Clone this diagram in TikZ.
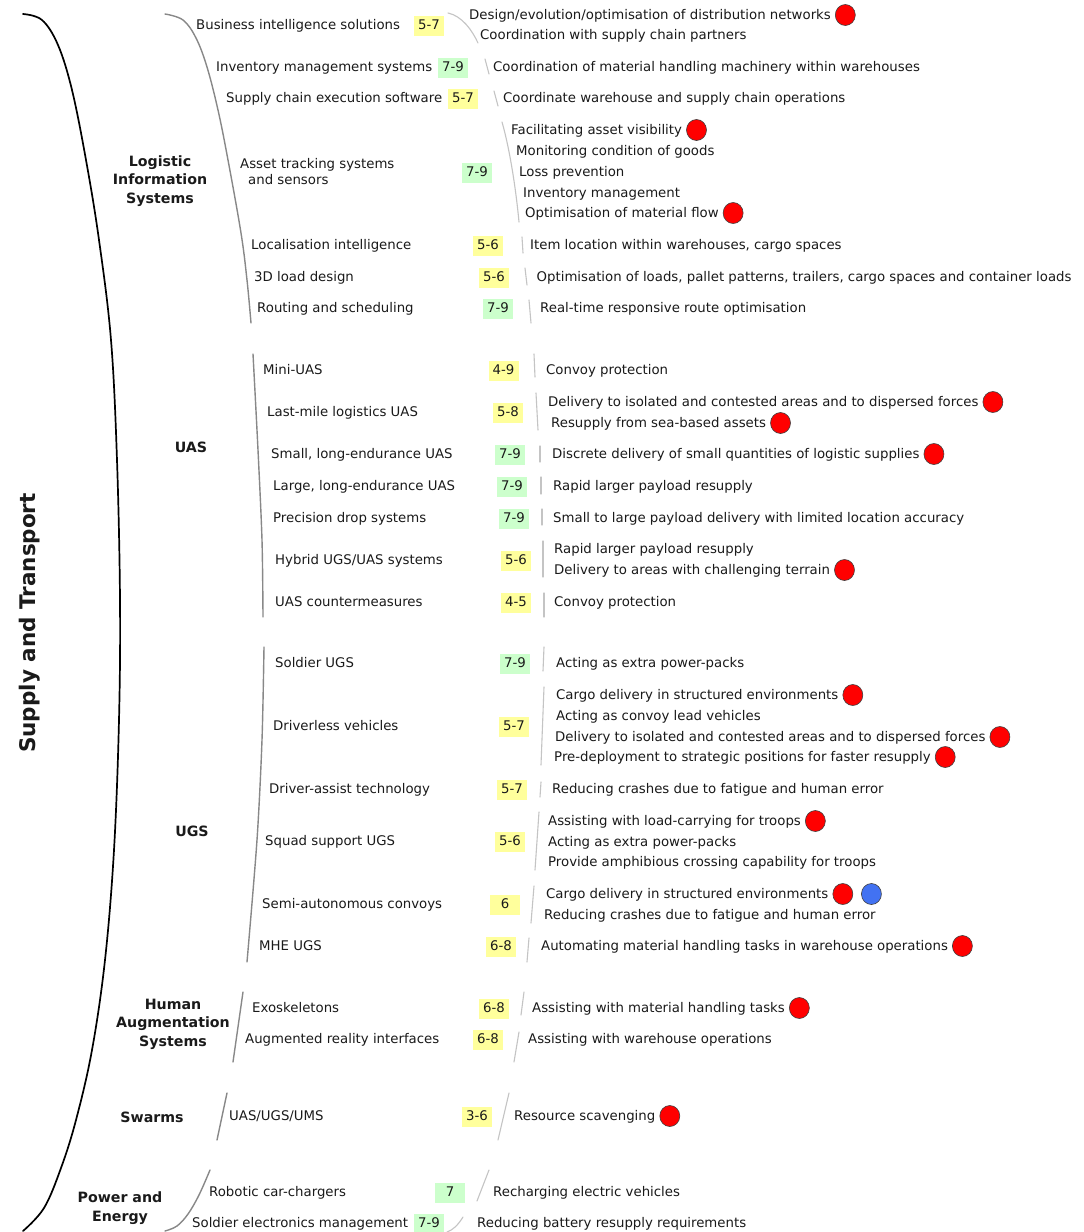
\documentclass[tikz,border=0pt]{standalone}
\usepackage{fontspec}
\setmainfont{DejaVu Sans}
\usetikzlibrary{shapes.geometric,positioning}
\definecolor{tyellow}{HTML}{FFFF9C}
\definecolor{tgreen}{HTML}{CCFFCC}
\definecolor{dotred}{HTML}{FF0000}
\definecolor{dotblue}{HTML}{4272F2}
\definecolor{txt}{HTML}{1A1A1A}
\definecolor{grpgray}{HTML}{888888}
\definecolor{sepgray}{HTML}{C4C4C4}
\begin{document}
\begin{tikzpicture}[x=1pt,y=-1pt,
  lbl/.style={anchor=west,inner sep=0pt,text height=12pt,text depth=3pt,font=\fontsize{13.3}{16}\selectfont,text=txt},
  cat/.style={align=center,inner sep=0pt,font=\fontsize{14.2}{18.5}\selectfont\bfseries,text=txt},
  badgeY/.style={fill=tyellow,minimum width=30pt,minimum height=20pt,inner sep=0pt,text height=10pt,text depth=3pt,font=\fontsize{13.3}{16}\selectfont,text=txt,yshift=-1pt},
  badgeG/.style={badgeY,fill=tgreen},
  rdot/.style={ellipse,draw=black!75,line width=0.6pt,fill=dotred,minimum width=20pt,minimum height=21pt,inner sep=0pt},
  bdot/.style={rdot,fill=dotblue},
  grp/.style={draw=grpgray,line width=1.4pt,line cap=round},
  sepline/.style={draw=sepgray,line width=1.1pt,line cap=round},
  mainbr/.style={draw=black,line width=1.7pt,line cap=round}
]
\useasboundingbox[fill=white] (0,0) rectangle (1084,1232);

% ---------- main bracket and title
\draw[mainbr] plot[smooth,tension=0.6] coordinates {(23,14) (42,20) (58,45) (72,90) (86,160) (99,240) (111,340) (117,460) (120,600) (119,720) (114,850) (105,960) (92,1050) (76,1120) (61,1168) (44,1208) (23,1231)};
\node[rotate=90,inner sep=0pt,font=\fontsize{21.5}{24}\selectfont\bfseries,text=txt] (title) at (30,623) {Supply and Transport};

% ---------- category labels
\node[cat] (catLIS) at (160,181) {Logistic\\Information\\Systems};
\node[cat] (catUAS) at (191,447) {UAS};
\node[cat] (catUGS) at (192,831) {UGS};
\node[cat] (catHAS) at (173,1024) {Human\\Augmentation\\Systems};
\node[cat] (catSW) at (152,1117) {Swarms};
\node[cat] (catPE) at (120,1208) {Power and\\Energy};

% ---------- group brackets
\draw[grp] plot[smooth,tension=0.6] coordinates {(165,14) (183,20) (196,38) (207,67) (218,110) (228,160) (241,233) (247,280) (251,323)};
\draw[grp] plot[smooth] coordinates {(253,354) (258,450) (262,540) (263,617)};
\draw[grp] plot[smooth] coordinates {(264,647) (262,740) (257,840) (247,962)};
\draw[grp] (243,992) -- (233,1062);
\draw[grp] (227,1093) -- (217,1140);
\draw[grp] plot[smooth,tension=0.6] coordinates {(210,1170) (199,1195) (188,1214) (177,1226) (165,1231)};

% ---------- technologies
\node[lbl] (i1) at (196,25) {Business intelligence solutions};
\node[badgeY] (b1) at (429,25) {5-7};
\node[lbl] (i2) at (216,67) {Inventory management systems};
\node[badgeG] (b2) at (453,67) {7-9};
\node[lbl] (i3) at (226,98) {Supply chain execution software};
\node[badgeY] (b3) at (463,98) {5-7};
\node[lbl] (i4) at (240,164) {Asset tracking systems};
\node[lbl] (i4b) at (248,180) {and sensors};
\node[badgeG] (b4) at (477,172) {7-9};
\node[lbl] (i5) at (251,245) {Localisation intelligence};
\node[badgeY] (b5) at (488,245) {5-6};
\node[lbl] (i6) at (254,277) {3D load design};
\node[badgeY] (b6) at (494,277) {5-6};
\node[lbl] (i7) at (257,308) {Routing and scheduling};
\node[badgeG] (b7) at (498,308) {7-9};

\node[lbl] (i8) at (263,370) {Mini-UAS};
\node[badgeY] (b8) at (503.5,370) {4-9};
\node[lbl] (i9) at (267,412) {Last-mile logistics UAS};
\node[badgeY] (b9) at (508,412) {5-8};
\node[lbl] (i10) at (271,454) {Small, long-endurance UAS};
\node[badgeG] (b10) at (510,454) {7-9};
\node[lbl] (i11) at (273,486) {Large, long-endurance UAS};
\node[badgeG] (b11) at (512,486) {7-9};
\node[lbl] (i12) at (273,518) {Precision drop systems};
\node[badgeG] (b12) at (514,518) {7-9};
\node[lbl] (i13) at (275,560) {Hybrid UGS/UAS systems};
\node[badgeY] (b13) at (516,560) {5-6};
\node[lbl] (i14) at (275,602) {UAS countermeasures};
\node[badgeY] (b14) at (516,602) {4-5};

\node[lbl] (i15) at (275,663) {Soldier UGS};
\node[badgeG] (b15) at (515,663) {7-9};
\node[lbl] (i16) at (273,726) {Driverless vehicles};
\node[badgeY] (b16) at (514,726) {5-7};
\node[lbl] (i17) at (269,789) {Driver-assist technology};
\node[badgeY] (b17) at (512,789) {5-7};
\node[lbl] (i18) at (265,841) {Squad support UGS};
\node[badgeY] (b18) at (510,841) {5-6};
\node[lbl] (i19) at (262,904) {Semi-autonomous convoys};
\node[badgeY] (b19) at (505,904) {6};
\node[lbl] (i20) at (259,946) {MHE UGS};
\node[badgeY] (b20) at (501,946) {6-8};

\node[lbl] (i21) at (252,1008) {Exoskeletons};
\node[badgeY] (b21) at (494,1008) {6-8};
\node[lbl] (i22) at (245,1039) {Augmented reality interfaces};
\node[badgeY] (b22) at (488,1039) {6-8};
\node[lbl] (i23) at (229,1116) {UAS/UGS/UMS};
\node[badgeY] (b23) at (477,1116) {3-6};
\node[lbl] (i24) at (209,1192) {Robotic car-chargers};
\node[badgeG] (b24) at (450,1192) {7};
\node[lbl] (i25) at (192,1223) {Soldier electronics management};
\node[badgeG] (b25) at (429,1223) {7-9};

% ---------- separators
\draw[sepline] (448,13) .. controls (462,16) and (472,30) .. (478,43);
\draw[sepline] (485,59) -- (489,74);
\draw[sepline] (494,91) -- (498,106);
\draw[sepline] (502,122) .. controls (510,150) and (516,190) .. (519,222);
\draw[sepline] (522,237) -- (523,253);
\draw[sepline] (525,268) -- (527,285);
\draw[sepline] (529,300) -- (531,323);
\draw[sepline] (534,354) -- (535,377);
\draw[sepline] (536,393) -- (538,430);
\draw[sepline] (540,446) -- (540,462);
\draw[sepline] (541,477) -- (541,494);
\draw[sepline] (542,509) -- (542,525);
\draw[sepline] (543,541) -- (543,577);
\draw[sepline] (544,593) -- (544,617);
\draw[sepline] (544,647) -- (543,671);
\draw[sepline] (544,687) -- (541,765);
\draw[sepline] (541,782) -- (540,797);
\draw[sepline] (539,812) -- (535,870);
\draw[sepline] (534,886) -- (531,923);
\draw[sepline] (529,938) -- (527,962);
\draw[sepline] (524,992) -- (521,1015);
\draw[sepline] (519,1032) -- (514,1062);
\draw[sepline] (509,1093) -- (498,1140);
\draw[sepline] (489,1170) -- (477,1201);
\draw[sepline] (463,1217) .. controls (458,1225) and (453,1230) .. (447,1232);

% ---------- applications
\node[lbl] (a1) at (469,15) {Design/evolution/optimisation of distribution networks};
\node[rdot,right=4pt of a1] (d1) {};
\node[lbl] (a1b) at (480,35) {Coordination with supply chain partners};
\node[lbl] (a2) at (493,67) {Coordination of material handling machinery within warehouses};
\node[lbl] (a3) at (503,98) {Coordinate warehouse and supply chain operations};
\node[lbl] (a4) at (511,130) {Facilitating asset visibility};
\node[rdot,right=4pt of a4] (d4) {};
\node[lbl] (a4b) at (516,151) {Monitoring condition of goods};
\node[lbl] (a4c) at (519,172) {Loss prevention};
\node[lbl] (a4d) at (523,193) {Inventory management};
\node[lbl] (a4e) at (525,213) {Optimisation of material flow};
\node[rdot,right=4pt of a4e] (d4e) {};
\node[lbl] (a5) at (530,245) {Item location within warehouses, cargo spaces};
\node[lbl] (a6) at (536.5,277) {Optimisation of loads, pallet patterns, trailers, cargo spaces and container loads};
\node[lbl] (a7) at (540,308) {Real-time responsive route optimisation};

\node[lbl] (a8) at (546,370) {Convoy protection};
\node[lbl] (a9) at (548,402) {Delivery to isolated and contested areas and to dispersed forces};
\node[rdot,right=4pt of a9] (d9) {};
\node[lbl] (a9b) at (551,423) {Resupply from sea-based assets};
\node[rdot,right=4pt of a9b] (d9b) {};
\node[lbl] (a10) at (552,454) {Discrete delivery of small quantities of logistic supplies};
\node[rdot,right=4pt of a10] (d10) {};
\node[lbl] (a11) at (553,486) {Rapid larger payload resupply};
\node[lbl] (a12) at (553,518) {Small to large payload delivery with limited location accuracy};
\node[lbl] (a13) at (554,549) {Rapid larger payload resupply};
\node[lbl] (a13b) at (554,570) {Delivery to areas with challenging terrain};
\node[rdot,right=4pt of a13b] (d13b) {};
\node[lbl] (a14) at (554,602) {Convoy protection};

\node[lbl] (a15) at (556,663) {Acting as extra power-packs};
\node[lbl] (a16) at (556,695) {Cargo delivery in structured environments};
\node[rdot,right=4pt of a16] (d16) {};
\node[lbl] (a16b) at (556,716) {Acting as convoy lead vehicles};
\node[lbl] (a16c) at (555,737) {Delivery to isolated and contested areas and to dispersed forces};
\node[rdot,right=4pt of a16c] (d16c) {};
\node[lbl] (a16d) at (554,757) {Pre-deployment to strategic positions for faster resupply};
\node[rdot,right=4pt of a16d] (d16d) {};
\node[lbl] (a17) at (552,789) {Reducing crashes due to fatigue and human error};
\node[lbl] (a18) at (548,821) {Assisting with load-carrying for troops};
\node[rdot,right=4pt of a18] (d18) {};
\node[lbl] (a18b) at (548,842) {Acting as extra power-packs};
\node[lbl] (a18c) at (548,862) {Provide amphibious crossing capability for troops};
\node[lbl] (a19) at (546,894) {Cargo delivery in structured environments};
\node[rdot,right=4pt of a19] (d19) {};
\node[bdot,right=8pt of d19] (d19b) {};
\node[lbl] (a19b) at (544,915) {Reducing crashes due to fatigue and human error};
\node[lbl] (a20) at (541,946) {Automating material handling tasks in warehouse operations};
\node[rdot,right=4pt of a20] (d20) {};

\node[lbl] (a21) at (532,1008) {Assisting with material handling tasks};
\node[rdot,right=4pt of a21] (d21) {};
\node[lbl] (a22) at (528,1039) {Assisting with warehouse operations};
\node[lbl] (a23) at (514,1116) {Resource scavenging};
\node[rdot,right=4pt of a23] (d23) {};
\node[lbl] (a24) at (493,1192) {Recharging electric vehicles};
\node[lbl] (a25) at (477,1223) {Reducing battery resupply requirements};
\end{tikzpicture}
\end{document}
